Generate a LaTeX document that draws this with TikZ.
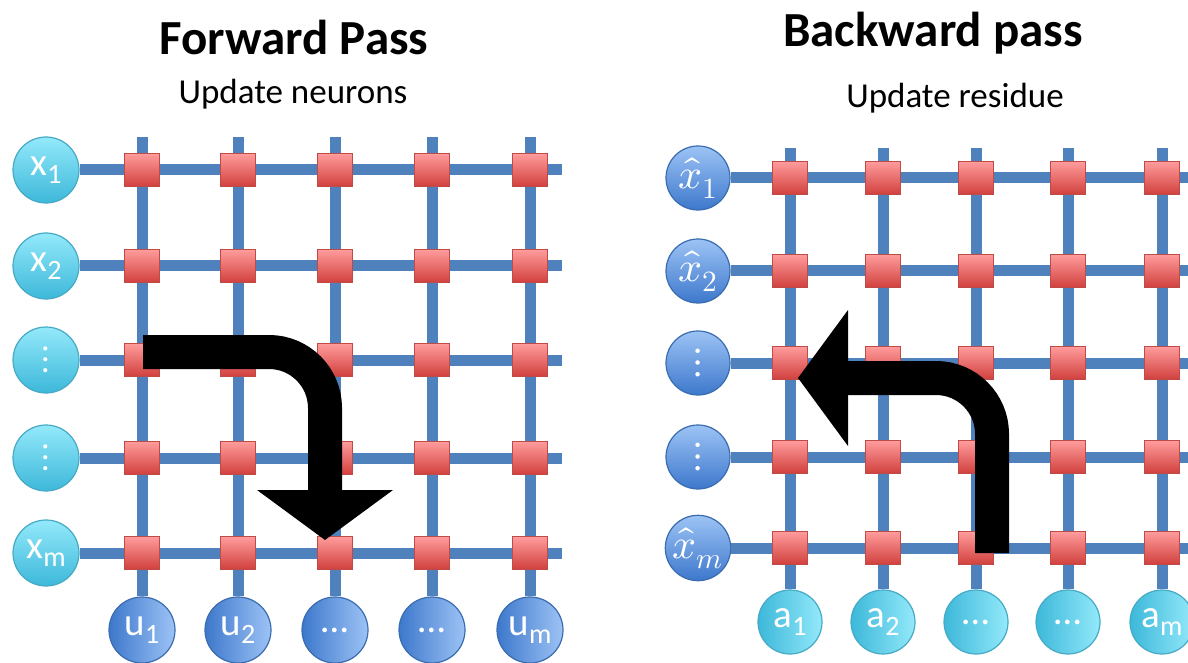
\documentclass[tikz,border=0pt]{standalone}
\usepackage{fontspec}
\usepackage{unicode-math}
\setmainfont{Carlito}
\setmathfont{Latin Modern Math}
\usetikzlibrary{arrows.meta}
\definecolor{wireblue}{HTML}{4F81BD}
\definecolor{cellred}{HTML}{BE4B48}
\definecolor{celltop}{HTML}{FF9C9C}
\definecolor{cellbot}{HTML}{D0403D}
\definecolor{cyanlight}{HTML}{93E9FA}
\definecolor{cyandark}{HTML}{3DB8DA}
\definecolor{cyanedge}{HTML}{46AAC5}
\definecolor{bluelight}{HTML}{9DC3F5}
\definecolor{bluedark}{HTML}{3D78CC}
\definecolor{blueedge}{HTML}{3A6CB0}
\newcommand{\nsub}[1]{\raisebox{-0.4ex}{\fontsize{14}{14}\selectfont #1}}

\begin{document}
\begin{tikzpicture}[x=0.5pt, y=-0.5pt,
  wire/.style={wireblue, line width=5.5pt},
  cell/.style={draw=cellred, line width=0.6pt, top color=celltop, bottom color=cellbot,
    minimum width=17.5pt, minimum height=16.5pt, inner sep=0pt},
  neuron/.style={circle, line width=0.6pt, minimum size=33pt, inner sep=0pt,
    text=white, font=\fontsize{19.5}{19.5}\selectfont},
  cyanv/.style={neuron, draw=cyanedge, top color=cyanlight, bottom color=cyandark},
  cyanh/.style={neuron, draw=cyanedge, left color=cyandark, right color=cyanlight},
  bluev/.style={neuron, draw=blueedge, top color=bluelight, bottom color=bluedark},
  blueh/.style={neuron, draw=blueedge, left color=bluedark, right color=bluelight},
  title/.style={anchor=base, font=\fontsize{24.5}{28}\selectfont\bfseries},
  subtitle/.style={anchor=base, font=\fontsize{17.5}{20}\selectfont},
  bigarrow/.style={line width=17pt, rounded corners=28pt,
    -{Triangle[width=68pt, length=25pt, line width=0pt]}}]
\useasboundingbox (0,0) rectangle (1188,663);

\node[title] (fwd) at (294,55) {Forward Pass};
\node[subtitle] (fwdsub) at (293,104) {Update neurons};
\node[title] (bwd) at (933,47) {Backward pass};
\node[subtitle] (bwdsub) at (955,108) {Update residue};

% forward pass grid
\foreach \y/\lab [count=\j] in {170/{x\nsub{1}}, 266/{x\nsub{2}}, 360/{$\vdots$}, 458/{$\vdots$}, 553/{x\nsub{m}}}{
  \node[cyanv] (x\j) at (46,\y) {\lab};
  \coordinate (xend\j) at (562,\y);
  \draw[wire] (x\j) -- (xend\j);
}
\foreach \x/\lab [count=\i] in {142/{u\nsub{1}}, 238/{u\nsub{2}}, 335/{…}, 432/{…}, 530/{u\nsub{m}}}{
  \node[blueh] (u\i) at (\x,630) {\lab};
  \coordinate (utop\i) at (\x,137);
  \draw[wire] (utop\i) -- (u\i);
}
\foreach \i in {1,...,5}
  \foreach \j in {1,...,5}
    \node[cell] (f\i\j) at (utop\i |- x\j) {};

% backward pass grid
\foreach \y/\lab [count=\j] in {178/{$\hat{x}_1$}, 271/{$\hat{x}_2$}, 363/{$\vdots$}, 457/{$\vdots$}, 548/{$\hat{x}_m$}}{
  \node[bluev, minimum size=32pt, font=\fontsize{21}{21}\selectfont] (r\j) at (698,\y) {\lab};
  \coordinate (rend\j) at (1188,\y);
  \draw[wire] (r\j) -- (rend\j);
}
\foreach \x/\lab [count=\i] in {790/{a\nsub{1}}, 883/{a\nsub{2}}, 976/{…}, 1068/{…}, 1162/{a\nsub{m}}}{
  \node[cyanh, minimum size=32pt] (a\i) at (\x,622) {\lab};
  \coordinate (atop\i) at (\x,148);
  \draw[wire] (atop\i) -- (a\i);
}
\foreach \i in {1,...,5}
  \foreach \j in {1,...,5}
    \node[cell] (b\i\j) at (atop\i |- r\j) {};

% arrows
\coordinate (fwdstart) at (143,352);
\coordinate (fwdtip) at (325,540);
\draw[bigarrow] (fwdstart) -| (fwdtip);
\coordinate (bwdstart) at (992,553);
\coordinate (bwdtip) at (798,378);
\draw[bigarrow] (bwdstart) |- (bwdtip);
\end{tikzpicture}
\end{document}
